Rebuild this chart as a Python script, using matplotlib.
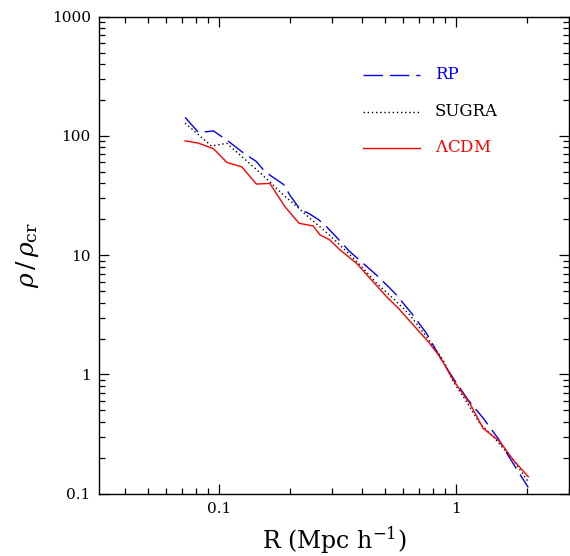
import matplotlib
matplotlib.use('Agg')
import matplotlib.pyplot as plt
from matplotlib.ticker import FixedLocator, FixedFormatter, LogLocator, NullFormatter

plt.rcParams['font.family'] = ['DejaVu Serif']
plt.rcParams['mathtext.fontset'] = 'dejavuserif'

# density profiles
r_rp = [0.072, 0.082, 0.095, 0.109, 0.127, 0.144, 0.154, 0.164, 0.188, 0.199,
        0.216, 0.231, 0.242, 0.262, 0.280, 0.310, 0.357, 0.463, 0.553, 0.650,
        0.752, 0.870, 0.974, 1.127, 1.304, 1.508, 1.69, 2.02]
rho_rp = [143, 107, 110, 91, 72, 61, 52, 47, 39, 32,
          25.5, 23.2, 22.1, 20, 17.9, 14.5, 10.7, 6.8, 4.8, 3.26,
          2.21, 1.32, 0.93, 0.61, 0.43, 0.29, 0.198, 0.113]

r_sugra = [0.072, 0.093, 0.108, 0.123, 0.140, 0.164, 0.187, 0.206, 0.242, 0.267,
           0.290, 0.340, 0.394, 0.463, 0.553, 0.640, 0.752, 0.884, 0.974, 1.11,
           1.26, 1.44, 1.745, 2.02]
rho_sugra = [128, 82.5, 86.7, 69, 55, 41.3, 32, 27.2, 20.4, 17.3,
             15.0, 11.1, 8.28, 5.81, 4.21, 3.15, 2.07, 1.32, 0.87, 0.59,
             0.389, 0.30, 0.192, 0.126]

r_lcdm = [0.072, 0.082, 0.095, 0.108, 0.125, 0.144, 0.164, 0.190, 0.218, 0.250,
          0.267, 0.294, 0.324, 0.381, 0.434, 0.510, 0.572, 0.661, 0.765, 0.856,
          0.974, 1.146, 1.304, 1.534, 1.745, 2.02]
rho_lcdm = [91, 87, 78, 60, 55, 39.5, 40, 25.5, 18.5, 17.6,
            14.8, 13.4, 11.1, 8.55, 6.4, 4.49, 3.59, 2.60, 1.88, 1.41,
            0.90, 0.57, 0.353, 0.273, 0.192, 0.139]

labels = ['RP', 'SUGRA', r'$\Lambda$CDM']
colors = ['#0000ff', 'black', '#ff0000']
styles = [dict(dashes=(14, 5)), dict(linestyle=(0, (1, 2))), dict(linestyle='-')]

xticks = [0.1, 1]
xticklabels = ['0.1', '1']
yticks = [0.1, 1, 10, 100, 1000]
yticklabels = ['0.1', '1', '10', '100', '1000']

fig = plt.figure(figsize=(5.70, 5.56), dpi=100)
ax = fig.add_axes([0.1737, 0.112, 0.8245, 0.858])

series = [(r_rp, rho_rp), (r_sugra, rho_sugra), (r_lcdm, rho_lcdm)]
for (r, rho), col, st in zip(series, colors, styles):
    ax.plot(r, rho, color=col, lw=1.0, **st)

ax.set_xscale('log')
ax.set_yscale('log')
ax.set_xlim(0.0312, 3.0)
ax.set_ylim(0.1, 1000)

ax.xaxis.set_major_locator(FixedLocator(xticks))
ax.xaxis.set_major_formatter(FixedFormatter(xticklabels))
ax.yaxis.set_major_locator(FixedLocator(yticks))
ax.yaxis.set_major_formatter(FixedFormatter(yticklabels))
for axis in (ax.xaxis, ax.yaxis):
    axis.set_minor_locator(LogLocator(base=10, subs=range(2, 10)))
    axis.set_minor_formatter(NullFormatter())

ax.tick_params(which='both', direction='in', top=True, right=True, width=0.9)
ax.tick_params(which='major', length=7.5, labelsize=11, pad=6)
ax.tick_params(which='minor', length=4)
for s in ax.spines.values():
    s.set_linewidth(1.0)

ax.set_xlabel('R (Mpc h$^{-1}$)', fontsize=17, labelpad=6)
ax.set_ylabel(r'$\rho\,/\,\rho_{\rm cr}$', fontsize=18, labelpad=8)

# legend drawn by hand: sample line then coloured label
leg_y = [0.878, 0.801, 0.725]
for lab, col, st, yy in zip(labels, colors, styles, leg_y):
    ax.plot([0.562, 0.683], [yy, yy], transform=ax.transAxes, color=col,
            lw=1.0, **st)
    ax.text(0.715, yy, lab, transform=ax.transAxes, color=col, fontsize=12,
            va='center', ha='left')

fig.savefig('out.png', dpi=100)
